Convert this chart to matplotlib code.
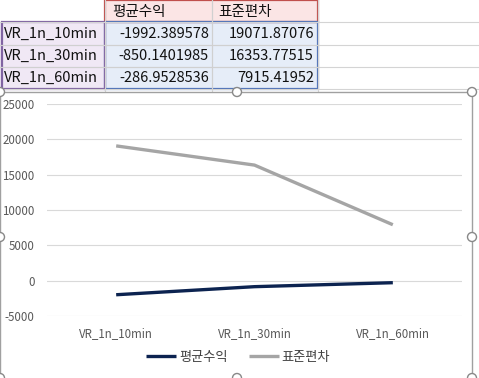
import matplotlib
matplotlib.use("Agg")
import matplotlib.pyplot as plt
from matplotlib.patches import Rectangle, Circle

plt.rcParams['font.family'] = ['Noto Sans CJK KR', 'DejaVu Sans']

categories = ["VR_1n_10min", "VR_1n_30min", "VR_1n_60min"]
series_names = ["평균수익", "표준편차"]
mean_return = [-1992.389578, -850.1401985, -286.9528536]
std_dev = [19071.87076, 16353.77515, 7915.41952]
mean_labels = ["-1992.389578", "-850.1401985", "-286.9528536"]
std_labels = ["19071.87076", "16353.77515", "7915.41952"]
yticks = [-5000, 0, 5000, 10000, 15000, 20000, 25000]

W, H = 479, 378
fig = plt.figure(figsize=(W / 100, H / 100), dpi=100)
fig.patch.set_facecolor("white")

def fx(px):
    return px / W

def fy(py):
    return 1 - py / H

# ---- spreadsheet area ----
bg = fig.add_axes([0, 0, 1, 1], zorder=0)
bg.set_xlim(0, W)
bg.set_ylim(H, 0)
bg.axis("off")

col_x = [0, 105, 212, 318, 479]
row_y = [0, 22, 45, 67, 89]
for x in col_x[1:4]:
    bg.plot([x, x], [0, 92], color="#d4d4d4", lw=0.8)
for y in row_y[1:]:
    bg.plot([0, W], [y, y], color="#d4d4d4", lw=0.8)

# fills
bg.add_patch(Rectangle((105, 0), 213, 22, facecolor="#fbe5e5", edgecolor="none"))
bg.add_patch(Rectangle((105, 22), 213, 67, facecolor="#e6edf8", edgecolor="none"))
bg.add_patch(Rectangle((0, 22), 105, 67, facecolor="#f0e8f5", edgecolor="none"))
for x in [212]:
    bg.plot([x, x], [0, 89], color="#d0d0d0", lw=0.8)
for y in [45, 67]:
    bg.plot([0, 318], [y, y], color="#d0d0d0", lw=0.8)

# colored borders
bg.add_patch(Rectangle((105, 0), 213, 22, facecolor="none", edgecolor="#c0504d", lw=1.6))
bg.add_patch(Rectangle((105, 22), 213, 67, facecolor="none", edgecolor="#4f72b8", lw=1.6))
bg.add_patch(Rectangle((2, 22), 103, 67, facecolor="none", edgecolor="#8064a2", lw=1.6))

tfs = 10.5
bg.text(112, 12, series_names[0], fontsize=tfs, va="center", ha="left", color="#111111")
bg.text(218, 12, series_names[1], fontsize=tfs, va="center", ha="left", color="#111111")
for i in range(3):
    yc = (row_y[i + 1] + row_y[i + 2]) / 2
    bg.text(4, yc, categories[i], fontsize=tfs, va="center", ha="left", color="#111111")
    bg.text(209, yc, mean_labels[i], fontsize=tfs, va="center", ha="right", color="#111111")
    bg.text(314, yc, std_labels[i], fontsize=tfs, va="center", ha="right", color="#111111")

# chart area box
bg.add_patch(Rectangle((0, 92), 472, 290, facecolor="white", edgecolor="#a0a0a0", lw=1.0, zorder=2))
for (cx, cy) in [(0, 92), (237, 92), (472, 92), (0, 237), (472, 237), (237, 378), (472, 378), (0, 378)]:
    bg.add_patch(Circle((cx, cy), 4.5, facecolor="white", edgecolor="#888888", lw=1.0, zorder=5))

# ---- chart ----
left, right = 47, 462
top, bottom = 104, 316
ax = fig.add_axes([fx(left), fy(bottom), fx(right) - fx(left), fy(top) - fy(bottom)], zorder=3)
ax.patch.set_alpha(0)
x = list(range(len(categories)))
l1, = ax.plot(x, mean_return, color="#0c2350", lw=2.4, solid_capstyle="butt", label=series_names[0])
l2, = ax.plot(x, std_dev, color="#a5a5a5", lw=2.4, solid_capstyle="butt", label=series_names[1])
ax.set_xlim(-0.5, 2.5)
ax.set_ylim(-5000, 25000)
ax.set_yticks(yticks)
ax.set_yticklabels([str(v) for v in yticks])
ax.set_xticks(x)
ax.set_xticklabels(categories)
ax.grid(axis="y", color="#d9d9d9", lw=0.8)
ax.set_axisbelow(True)
for s in ax.spines.values():
    s.set_visible(False)
ax.tick_params(axis="y", length=0, pad=9, labelsize=8.3, labelcolor="#595959")
ax.tick_params(axis="x", length=0, pad=8, labelsize=8.3, labelcolor="#595959")

leg = fig.legend(handles=[l1, l2], loc="center", bbox_to_anchor=(fx(238), fy(357)),
                 ncol=2, frameon=False, fontsize=9.5, handlelength=2.3, columnspacing=1.6,
                 handletextpad=0.2)
for t in leg.get_texts():
    t.set_color("#404040")

fig.savefig("out.png", dpi=100, facecolor="white")
